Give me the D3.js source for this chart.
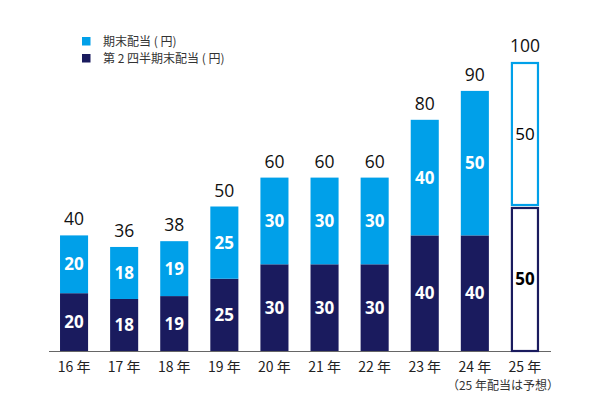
<!DOCTYPE html>
<html><head><meta charset="utf-8">
<script src="https://cdn.jsdelivr.net/npm/d3@7"></script>
<style>body{margin:0;background:#fff}svg{display:block}</style>
</head><body>
<svg id="c" width="595" height="397"></svg>
<script>
const years = ["16 年","17 年","18 年","19 年","20 年","21 年","22 年","23 年","24 年","25 年"];
const secondQuarter = [20,18,19,25,30,30,30,40,40,50];
const yearEnd = [20,18,19,25,30,30,30,40,50,50];
const totals = [40,36,38,50,60,60,60,80,90,100];
const forecastIndex = 9;
const legendLabels = ["期末配当 ( 円)","第 2 四半期末配当 ( 円)"];
const note = "（25 年配当は予想）";

const light = "#00a0e9", dark = "#1a1b5e";
const svg = d3.select("#c");
const numFont = "'Open Sans','Noto Sans',sans-serif";
const jpFont = "'Noto Sans CJK JP','Noto Sans',sans-serif";

const x = d3.scaleBand().domain(years).range([49, 550]).paddingInner(0.44).paddingOuter(0.22);
const y = d3.scaleLinear().domain([0,100]).range([351, 62]);
const bw = x.bandwidth();

const data = years.map((yr,i)=>({yr, q2:secondQuarter[i], ye:yearEnd[i], tot:totals[i], fc:i===forecastIndex}));

svg.append("line").attr("x1",49).attr("x2",551).attr("y1",351.5).attr("y2",351.5)
  .attr("stroke","#666").attr("stroke-width",1);

const g = svg.append("g");
data.forEach(d=>{
  const x0 = x(d.yr);
  if(!d.fc){
    g.append("rect").attr("x",x0).attr("width",bw).attr("y",y(d.q2)).attr("height",y(0)-y(d.q2)).attr("fill",dark);
    g.append("rect").attr("x",x0).attr("width",bw).attr("y",y(d.q2+d.ye)).attr("height",y(d.q2)-y(d.q2+d.ye)).attr("fill",light);
  } else {
    g.append("rect").attr("x",x0+1).attr("width",bw-2).attr("y",y(d.q2+d.ye)+1).attr("height",y(d.q2)-y(d.q2+d.ye)-2.5)
      .attr("fill","none").attr("stroke",light).attr("stroke-width",2.2);
    g.append("rect").attr("x",x0+1).attr("width",bw-2).attr("y",y(d.q2)+1.5).attr("height",y(0)-y(d.q2)-1.5)
      .attr("fill","none").attr("stroke",dark).attr("stroke-width",2.2);
  }
  const cx = x0 + bw/2;
  g.append("text").attr("x",cx).attr("y",(y(0)+y(d.q2))/2).attr("dy","0.36em").attr("text-anchor","middle")
    .attr("font-family",numFont).attr("font-weight","bold").attr("font-size",17)
    .attr("fill", d.fc ? "#000" : "#fff").text(d.q2);
  g.append("text").attr("x",cx).attr("y",(y(d.q2)+y(d.q2+d.ye))/2).attr("dy","0.36em").attr("text-anchor","middle")
    .attr("font-family",numFont).attr("font-weight", d.fc ? "normal" : "bold").attr("font-size",17)
    .attr("fill", d.fc ? "#000" : "#fff").text(d.ye);
  g.append("text").attr("x",cx).attr("y",y(d.tot)-10).attr("text-anchor","middle")
    .attr("font-family",numFont).attr("font-size",17.5).attr("fill","#111").text(d.tot);
  g.append("text").attr("x",cx).attr("y",372).attr("text-anchor","middle")
    .attr("font-family",jpFont).attr("font-size",14).attr("fill","#222").text(d.yr);
});

svg.append("text").attr("x",x(years[forecastIndex])+bw/2-22).attr("y",390).attr("text-anchor","middle")
  .attr("font-family",jpFont).attr("font-size",12).attr("fill","#333").text(note);

const lg = svg.append("g");
[light,dark].forEach((c,i)=>{
  lg.append("rect").attr("x",82).attr("y",37+i*17).attr("width",8.5).attr("height",8.5).attr("fill",c);
  lg.append("text").attr("x",103).attr("y",46+i*17).attr("font-family",jpFont).attr("font-size",12)
    .attr("fill","#333").text(legendLabels[i]);
});
</script>
</body></html>
